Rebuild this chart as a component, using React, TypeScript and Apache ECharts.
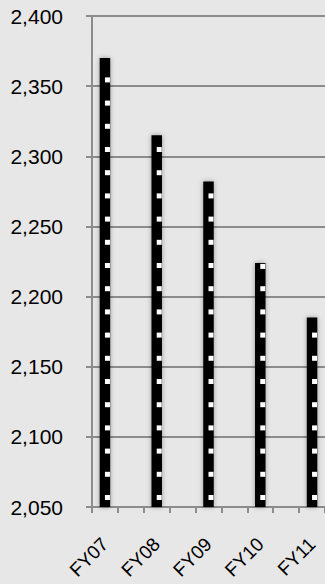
import React, { useEffect, useRef } from "react";
import * as echarts from "echarts";

// Fiscal years and their values
const fiscalYears = ["FY07", "FY08", "FY09", "FY10", "FY11"];
const values = [2370, 2315, 2282, 2224, 2185];

// Value axis range and step
const yMin = 2050;
const yMax = 2400;
const yStep = 50;

const FONT = "'Liberation Sans', Arial, sans-serif";
const GRID_COLOR = "#8c8c8c";
const BAR_WIDTH = 10.5;

// Each year sits on every other slot, leaving a blank slot between bars
const slots: string[] = [];
const slotValues: (number | string)[] = [];
fiscalYears.forEach((fy, i) => {
  if (i > 0) {
    slots.push("");
    slotValues.push("-");
  }
  slots.push(fy);
  slotValues.push(values[i]);
});

// White dash pattern running up the right half of each bar
const dashPattern = (params: any, api: any) => {
  const idx = api.value(0);
  const val = api.value(1);
  const base = api.coord([idx, yMin]);
  const top = api.coord([idx, val]);
  const size = 5;
  const step = 23.2;
  const x = base[0];
  const children: any[] = [];
  for (let y = base[1] - 12; y >= top[1] - 1; y -= step) {
    children.push({
      type: "rect",
      shape: { x: x, y: Math.max(y, top[1] + 1), width: size, height: size },
      style: { fill: "#fff" },
    });
  }
  return { type: "group", children };
};

export default function App() {
  const ref = useRef<HTMLDivElement>(null);

  useEffect(() => {
    if (!ref.current) return;
    const chart = echarts.init(ref.current, null, { renderer: "svg" });
    chart.setOption({
      animation: false,
      backgroundColor: "#e7e7e7",
      grid: { left: 92, right: 0, top: 16, bottom: 77, containLabel: false },
      xAxis: {
        type: "category",
        data: slots,
        boundaryGap: true,
        axisLine: { show: true, lineStyle: { color: GRID_COLOR, width: 2 } },
        axisTick: {
          show: true,
          length: 6,
          alignWithLabel: false,
          interval: 0,
          lineStyle: { color: GRID_COLOR, width: 2 },
        },
        axisLabel: {
          interval: 0,
          rotate: 45,
          margin: 34,
          color: "#000",
          fontFamily: FONT,
          fontSize: 19,
        },
      },
      yAxis: {
        type: "value",
        min: yMin,
        max: yMax,
        interval: yStep,
        axisLine: { show: true, lineStyle: { color: GRID_COLOR, width: 2 } },
        axisTick: { show: true, length: 6, lineStyle: { color: GRID_COLOR, width: 2 } },
        splitLine: { show: true, lineStyle: { color: GRID_COLOR, width: 2 } },
        axisLabel: {
          margin: 29,
          color: "#000",
          fontFamily: FONT,
          fontSize: 21,
          formatter: (v: number) => v.toLocaleString("en-US"),
        },
      },
      series: [
        {
          type: "bar",
          data: slotValues,
          barWidth: BAR_WIDTH,
          itemStyle: {
            color: "#000",
            shadowBlur: 5,
            shadowColor: "rgba(0,0,0,0.35)",
          },
          z: 2,
        },
        {
          type: "custom",
          data: fiscalYears.map((_, i) => [i * 2, values[i]]),
          renderItem: dashPattern,
          silent: true,
          z: 3,
        },
      ],
    });
    return () => chart.dispose();
  }, []);

  return (
    <div
      ref={ref}
      style={{ position: "fixed", left: 0, top: 0, width: 325, height: 584 }}
    />
  );
}
